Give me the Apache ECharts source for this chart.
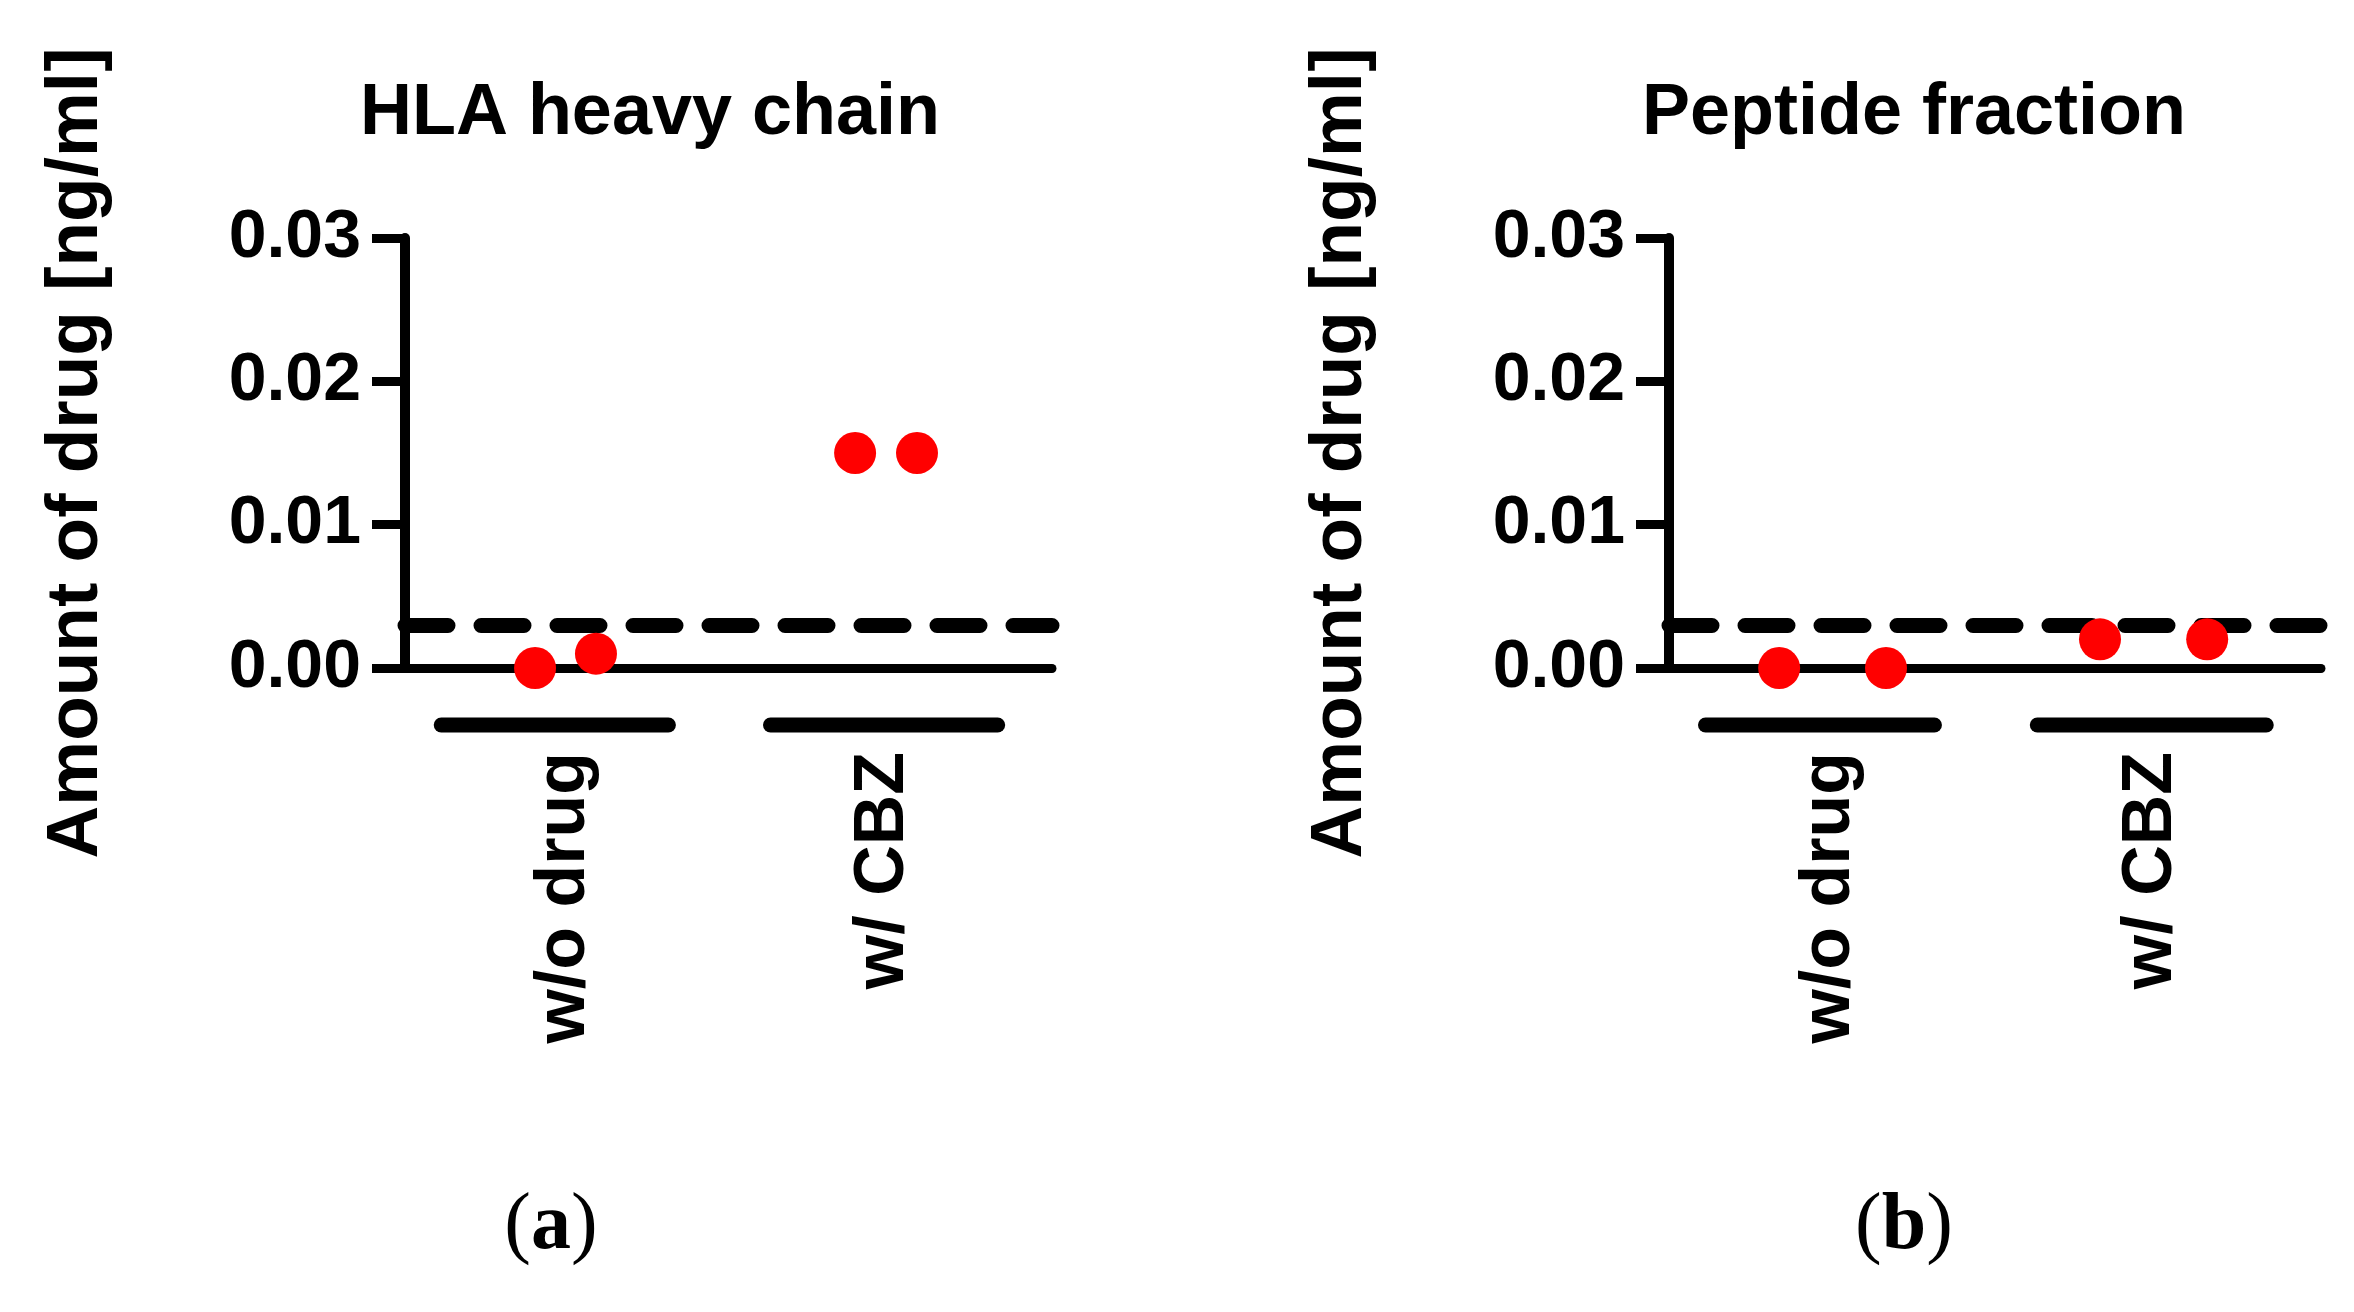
<!DOCTYPE html>
<html>
<head>
<meta charset="utf-8">
<script src="https://cdn.jsdelivr.net/npm/echarts@6/dist/echarts.min.js"></script>
<style>
  html, body { margin: 0; padding: 0; background: #ffffff; }
  #chart { width: 2354px; height: 1312px; }
</style>
</head>
<body>
<div id="chart"></div>
<script>
// ---- data ----
const categories = ['w/o drug', 'w/ CBZ'];
const categoryPos = [1, 2];
const yTicks = [0, 0.01, 0.02, 0.03];
const hlaX = [0.94, 1.125, 1.912, 2.10];
const hlaY = [0, 0.001, 0.015, 0.015];
const pepX = [0.877, 1.199, 1.844, 2.167];
const pepY = [0, 0, 0.002, 0.002];
const threshold = 0.003;
const panelTitles = ['HLA heavy chain', 'Peptide fraction'];
const panelLetters = ['a', 'b'];
const yAxisTitle = 'Amount of drug [ng/ml]';
const bracketHalf = 0.345;

// ---- layout ----
const FONT = 'Liberation Sans';
const X_MIN = 0.545, X_MAX = 2.51;
const panels = [
  { left: 405, width: 647, titleX: 650, letterX: 551, xs: hlaX, ys: hlaY },
  { left: 1669, width: 652, titleX: 1914, letterX: 1904, xs: pepX, ys: pepY }
];
const PLOT_TOP = 238, PLOT_H = 430;
const labelPad = [[20, 0, 0, 0], [0, 0, 0, 0]];

const grid = [], xAxis = [], yAxis = [], series = [], title = [];

panels.forEach((p, i) => {
  grid.push({ left: p.left, width: p.width, top: PLOT_TOP, height: PLOT_H, containLabel: false });
  xAxis.push({
    type: 'value', gridIndex: i, min: X_MIN, max: X_MAX,
    axisLine: { show: true, onZero: false, lineStyle: { color: '#000', width: 9 } },
    axisTick: { show: false }, axisLabel: { show: false }, splitLine: { show: false }
  });
  yAxis.push({
    type: 'value', gridIndex: i, min: yTicks[0], max: yTicks[yTicks.length - 1], interval: 0.01,
    name: yAxisTitle, nameLocation: 'middle', nameGap: 292,
    nameTextStyle: { fontFamily: FONT, fontSize: 73, fontWeight: 'bold', color: '#000', lineHeight: 73 },
    axisLine: { show: true, onZero: false, lineStyle: { color: '#000', width: 10 } },
    axisTick: { show: true, length: 33, lineStyle: { color: '#000', width: 9 } },
    axisLabel: {
      fontFamily: FONT, fontSize: 68, fontWeight: 'bold', color: '#000', margin: 44,
      formatter: v => Number(v).toFixed(2)
    },
    splitLine: { show: false }
  });
  series.push({
    type: 'scatter', xAxisIndex: i, yAxisIndex: i, z: 3,
    symbol: 'circle', symbolSize: 42,
    itemStyle: { color: '#ff0000', opacity: 1 },
    emphasis: { disabled: true },
    data: p.xs.map((x, k) => [x, p.ys[k]]),
    markLine: {
      z: 1, silent: true, symbol: ['none', 'none'], precision: 6,
      label: { show: false },
      lineStyle: { color: '#000', width: 15, type: [43, 33], cap: 'round', opacity: 1 },
      data: [{ yAxis: threshold }]
    }
  });
  title.push({
    text: panelTitles[i], left: p.titleX, top: 78, textAlign: 'center', padding: 0,
    textStyle: { fontFamily: FONT, fontSize: 72, fontWeight: 'bold', color: '#000', lineHeight: 72 }
  });
  title.push({
    text: '{p|(}{l|' + panelLetters[i] + '}{p|)}', left: p.letterX, top: 1187, textAlign: 'center', padding: 0,
    textStyle: {
      lineHeight: 80,
      rich: {
        p: { fontFamily: 'Liberation Serif', fontSize: 80, fontWeight: 'normal', color: '#000', lineHeight: 80 },
        l: { fontFamily: 'Liberation Serif', fontSize: 80, fontWeight: 'bold', color: '#000', lineHeight: 80 }
      }
    }
  });
});

// bracket grids (group bars + category labels)
const labelRich = {};
categories.forEach((c, k) => {
  labelRich['c' + k] = { fontFamily: FONT, fontSize: 70, fontWeight: 'bold', color: '#000', padding: labelPad[k] };
});
panels.forEach((p, i) => {
  const gi = panels.length + i;
  grid.push({ left: p.left, width: p.width, top: 700, height: 50, containLabel: false });
  xAxis.push({
    type: 'value', gridIndex: gi, min: X_MIN, max: X_MAX, position: 'bottom',
    axisLine: { show: false }, axisTick: { show: false }, splitLine: { show: false },
    axisLabel: {
      show: true, customValues: categoryPos, rotate: 90, margin: 2,
      fontFamily: FONT, fontSize: 70, fontWeight: 'bold', color: '#000',
      formatter: v => {
        const k = categoryPos.indexOf(Math.round(v));
        return k < 0 ? '' : '{c' + k + '|' + categories[k] + '}';
      },
      rich: labelRich
    }
  });
  yAxis.push({ type: 'value', gridIndex: gi, min: 0, max: 1, show: false });
  categoryPos.forEach((c) => {
    series.push({
      type: 'line', xAxisIndex: gi, yAxisIndex: gi, clip: false, silent: true,
      showSymbol: false, symbol: 'none',
      lineStyle: { color: '#000', width: 15, cap: 'round' },
      data: [[c - bracketHalf, 0.5], [c + bracketHalf, 0.5]]
    });
  });
});

const chart = echarts.init(document.getElementById('chart'), null, { renderer: 'canvas' });
chart.setOption({
  backgroundColor: '#ffffff',
  animation: false,
  title, grid, xAxis, yAxis, series
});
</script>
</body>
</html>
